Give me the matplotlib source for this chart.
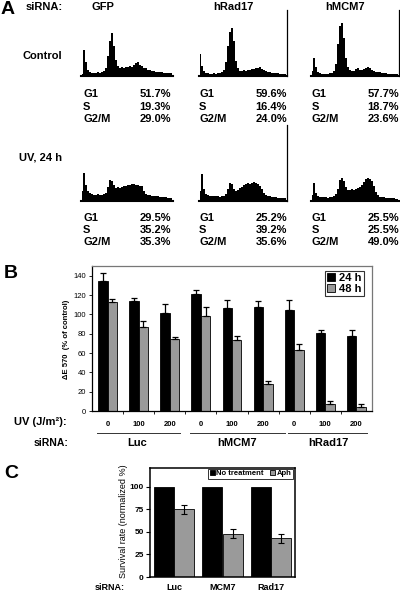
import matplotlib
matplotlib.use("Agg")
import matplotlib.pyplot as plt
import numpy as np

plt.rcParams['font.family'] = ['Liberation Sans', 'DejaVu Sans']

W, H = 400, 595
fig = plt.figure(figsize=(W / 100, H / 100), dpi=100)

def px_axes(x0, y0, x1, y1):
    return fig.add_axes([x0 / W, 1 - y1 / H, (x1 - x0) / W, (y1 - y0) / H])

# ---------------- data ----------------
# Panel A: flow cytometry profiles (heights, 2 px bins)
hist_ctrl_gfp = [2, 26, 14, 6, 4, 3, 3, 3, 4, 3, 4, 5, 8, 20, 35, 43, 30, 16, 10, 8, 9, 8, 9, 9, 10, 9, 11,
                 13, 14, 11, 10, 8, 8, 6, 6, 5, 5, 4, 4, 4, 4, 3, 3, 3, 3, 3]
hist_ctrl_rad17 = [22, 10, 5, 3, 3, 2, 2, 3, 2, 3, 3, 4, 6, 14, 30, 44, 48, 35, 15, 8, 5, 5, 6, 5, 6, 6, 7,
                   7, 8, 8, 9, 7, 6, 5, 4, 4, 3, 3, 3, 3, 2, 2, 2, 2]
hist_ctrl_mcm7 = [5, 18, 9, 4, 3, 2, 2, 2, 2, 3, 3, 5, 12, 32, 50, 53, 38, 18, 9, 6, 5, 5, 7, 8, 6, 6, 7, 8,
                  9, 8, 6, 5, 4, 4, 4, 3, 3, 3, 2, 2, 2, 2, 2, 2]
hist_uv_gfp = [10, 28, 16, 10, 8, 7, 6, 6, 7, 6, 6, 7, 8, 14, 21, 20, 16, 13, 14, 13, 14, 15, 15, 16, 16,
               17, 17, 16, 16, 15, 15, 10, 7, 6, 6, 5, 5, 5, 5, 4, 4, 4, 4, 3, 3, 3]
hist_uv_rad17 = [10, 27, 12, 7, 6, 5, 5, 5, 5, 5, 4, 5, 5, 7, 12, 18, 17, 12, 10, 11, 13, 14, 16, 17, 18,
                 17, 18, 19, 18, 17, 15, 12, 8, 6, 5, 5, 4, 4, 4, 3, 3, 3, 3, 3]
hist_uv_mcm7 = [6, 18, 8, 5, 4, 4, 4, 4, 3, 4, 4, 5, 7, 12, 21, 23, 20, 14, 11, 11, 12, 11, 12, 13, 14, 16,
                19, 22, 23, 22, 20, 15, 9, 6, 4, 4, 4, 3, 3, 3, 3, 3, 2, 2]

sirna_A = ['GFP', 'hRad17', 'hMCM7']
phase_labels = ['G1', 'S', 'G2/M']
ctrl_pct = [[51.7, 19.3, 29.0], [59.6, 16.4, 24.0], [57.7, 18.7, 23.6]]
uv_pct = [[29.5, 35.2, 35.3], [25.2, 39.2, 35.6], [25.5, 25.5, 49.0]]

# Panel B
uv_doses = ['0', '100', '200', '0', '100', '200', '0', '100', '200']
groups_B = ['Luc', 'hMCM7', 'hRad17']
b24 = [135, 114, 101, 121, 107, 108, 105, 81, 78]
b24_top = [143, 117, 111, 125, 115, 114, 115, 84, 84]
b48 = [113, 87, 75, 98, 73, 28, 63, 7, 4]
b48_top = [116, 93, 77, 108, 78, 31, 69, 10, 7]
b_yticks = [0, 20, 40, 60, 80, 100, 120, 140]

# Panel C
groups_C = ['Luc', 'MCM7', 'Rad17']
c_none = [100, 100, 100]
c_aph = [75, 48, 43]
c_aph_err = [5, 5, 5]
c_yticks = [0, 25, 50, 75, 100]

# ---------------- overlay for text ----------------
ax0 = fig.add_axes([0, 0, 1, 1])
ax0.set_xlim(0, W)
ax0.set_ylim(H, 0)
ax0.axis('off')

bold = dict(fontweight='bold')

# ---------------- Panel A ----------------
ax0.text(1, 10, 'A', fontsize=14, va='center', ha='left', **bold)
ax0.text(63, 7, 'siRNA:', fontsize=8, va='center', ha='right', **bold)
for name, cx in zip(sirna_A, [103, 233, 345]):
    ax0.text(cx, 7, name, fontsize=8, va='center', ha='center', **bold)
ax0.text(62, 56, 'Control', fontsize=8, va='center', ha='right', **bold)
ax0.text(62, 157, 'UV, 24 h', fontsize=8, va='center', ha='right', **bold)

col_left = [83, 199, 312]
col_right = [171, 287, 399]
ctrl_rows = [94, 106.5, 119]
uv_rows = [218, 230, 242]
for c in range(3):
    for r in range(3):
        ax0.text(col_left[c], ctrl_rows[r], phase_labels[r], fontsize=8, va='center', ha='left', **bold)
        ax0.text(col_right[c], ctrl_rows[r], f'{ctrl_pct[c][r]:.1f}%', fontsize=8, va='center',
                 ha='right', **bold)
        ax0.text(col_left[c], uv_rows[r], phase_labels[r], fontsize=8, va='center', ha='left', **bold)
        ax0.text(col_right[c], uv_rows[r], f'{uv_pct[c][r]:.1f}%', fontsize=8, va='center',
                 ha='right', **bold)

def draw_hist(h, x0, ytop, ybot, right_line):
    n = len(h)
    ax = px_axes(x0, ytop, x0 + 2 * n, ybot)
    ax.set_facecolor('none')
    ax.fill_between(np.arange(n), h, step='mid', color='black', lw=0)
    ax.set_xlim(-0.5, n - 0.5)
    ax.set_ylim(0, ybot - ytop)
    ax.set_xticks([])
    ax.set_yticks([])
    for s in ['top', 'left']:
        ax.spines[s].set_visible(False)
    ax.spines['bottom'].set_linewidth(1.5)
    ax.spines['right'].set_visible(right_line)
    ax.spines['right'].set_linewidth(0.9)
    return ax

draw_hist(hist_ctrl_gfp, 81, 10, 76, False)
draw_hist(hist_ctrl_rad17, 199, 10, 76, True)
draw_hist(hist_ctrl_mcm7, 311, 10, 76, True)
draw_hist(hist_uv_gfp, 81, 125, 201, False)
draw_hist(hist_uv_rad17, 199, 125, 201, True)
draw_hist(hist_uv_mcm7, 311, 125, 201, False)

# ---------------- Panel B ----------------
ax0.text(4, 274, 'B', fontsize=14, va='center', ha='left', **bold)
axB = px_axes(92, 266, 372, 411)
xb = np.arange(len(b24))
bw = 0.305
axB.bar(xb - bw / 2, b24, bw, color='black', edgecolor='black', lw=0.6, label='24 h', zorder=2)
axB.bar(xb + bw / 2, b48, bw, color='#9a9a9a', edgecolor='black', lw=0.6, label='48 h', zorder=2)
axB.errorbar(xb - bw / 2, b24, yerr=[np.zeros(len(b24)), np.array(b24_top) - np.array(b24)],
             fmt='none', ecolor='black', elinewidth=0.9, capsize=2.5, capthick=0.9, zorder=3)
axB.errorbar(xb + bw / 2, b48, yerr=[np.zeros(len(b48)), np.array(b48_top) - np.array(b48)],
             fmt='none', ecolor='black', elinewidth=0.9, capsize=2.5, capthick=0.9, zorder=3)
axB.set_xlim(-0.5, len(b24) - 0.5)
axB.set_ylim(0, 150)
axB.set_yticks(b_yticks)
axB.set_yticklabels([str(v) for v in b_yticks], fontsize=5.5)
axB.tick_params(axis='y', length=2.5, width=0.6, pad=2)
axB.set_xticks(xb)
axB.set_xticklabels(uv_doses, fontsize=5.5, **bold)
axB.tick_params(axis='x', length=0, pad=7)
axB.set_xticks(np.arange(0.5, len(b24) - 1, 1), minor=True)
axB.tick_params(axis='x', which='minor', length=2, width=0.6, direction='out')
for s in ['top', 'right']:
    axB.spines[s].set_color('#777777')
for s in ['left', 'bottom']:
    axB.spines[s].set_color('black')
for s in axB.spines.values():
    s.set_linewidth(0.9)
legB = axB.legend(loc='upper right', bbox_to_anchor=(364 / W, 1 - 271 / H), bbox_transform=fig.transFigure,
                  fontsize=8, frameon=True, fancybox=False, edgecolor='black', handlelength=0.7,
                  handleheight=0.7, handletextpad=0.4, borderpad=0.2, labelspacing=0.05, borderaxespad=0)
legB.get_frame().set_linewidth(0.8)
for t in legB.get_texts():
    t.set_fontweight('bold')
ax0.text(66, 339, 'ΔE 570  (% of control)', rotation=90, fontsize=5.5, va='center', ha='center', **bold)

ax0.text(67, 422, 'UV (J/m²):', fontsize=8, va='center', ha='right', **bold)
for x1, x2 in [(97, 180), (190, 285), (288, 367)]:
    ax0.plot([x1, x2], [433, 433], color='#333333', lw=0.7)
ax0.text(68, 443, 'siRNA:', fontsize=7.5, va='center', ha='right', **bold)
for name, cx in zip(groups_B, [137, 237, 328]):
    ax0.text(cx, 443, name, fontsize=8, va='center', ha='center', **bold)

# ---------------- Panel C ----------------
ax0.text(4, 474, 'C', fontsize=14, va='center', ha='left', **bold)
axC = px_axes(150, 468, 295, 577)
xc = np.arange(len(c_none))
cw = 0.414
axC.bar(xc - cw / 2, c_none, cw, color='black', edgecolor='black', lw=0.6, label='No treatment', zorder=2)
axC.bar(xc + cw / 2, c_aph, cw, color='#9a9a9a', edgecolor='black', lw=0.6, label='Aph', zorder=2)
axC.errorbar(xc + cw / 2, c_aph, yerr=c_aph_err, fmt='none', ecolor='black', elinewidth=0.8,
             capsize=2, capthick=0.8, zorder=3)
axC.set_xlim(-0.5, len(c_none) - 0.5)
axC.set_ylim(0, 121)
axC.set_yticks(c_yticks)
axC.set_yticklabels([str(v) for v in c_yticks], fontsize=6, **bold)
axC.tick_params(axis='y', length=3, width=0.8, pad=1.5)
axC.set_xticks(xc)
axC.set_xticklabels(groups_C, fontsize=6.5, **bold)
axC.tick_params(axis='x', length=0, pad=4)
for s in axC.spines.values():
    s.set_linewidth(1.1)
legC = axC.legend(loc='upper right', bbox_to_anchor=(293 / W, 1 - 469 / H), bbox_transform=fig.transFigure,
                  ncol=2, fontsize=5.5, frameon=True, fancybox=False, edgecolor='black', handlelength=0.7,
                  handleheight=0.7, handletextpad=0.2, columnspacing=0.8, borderpad=0.15, borderaxespad=0)
legC.get_frame().set_linewidth(0.7)
for t in legC.get_texts():
    t.set_fontweight('bold')
ax0.text(124, 521, 'Survival rate (normalized %)', rotation=90, fontsize=6.5, va='center', ha='center')
ax0.text(125, 587, 'siRNA:', fontsize=6.5, va='center', ha='right', **bold)

fig.savefig('out.png', dpi=100)
